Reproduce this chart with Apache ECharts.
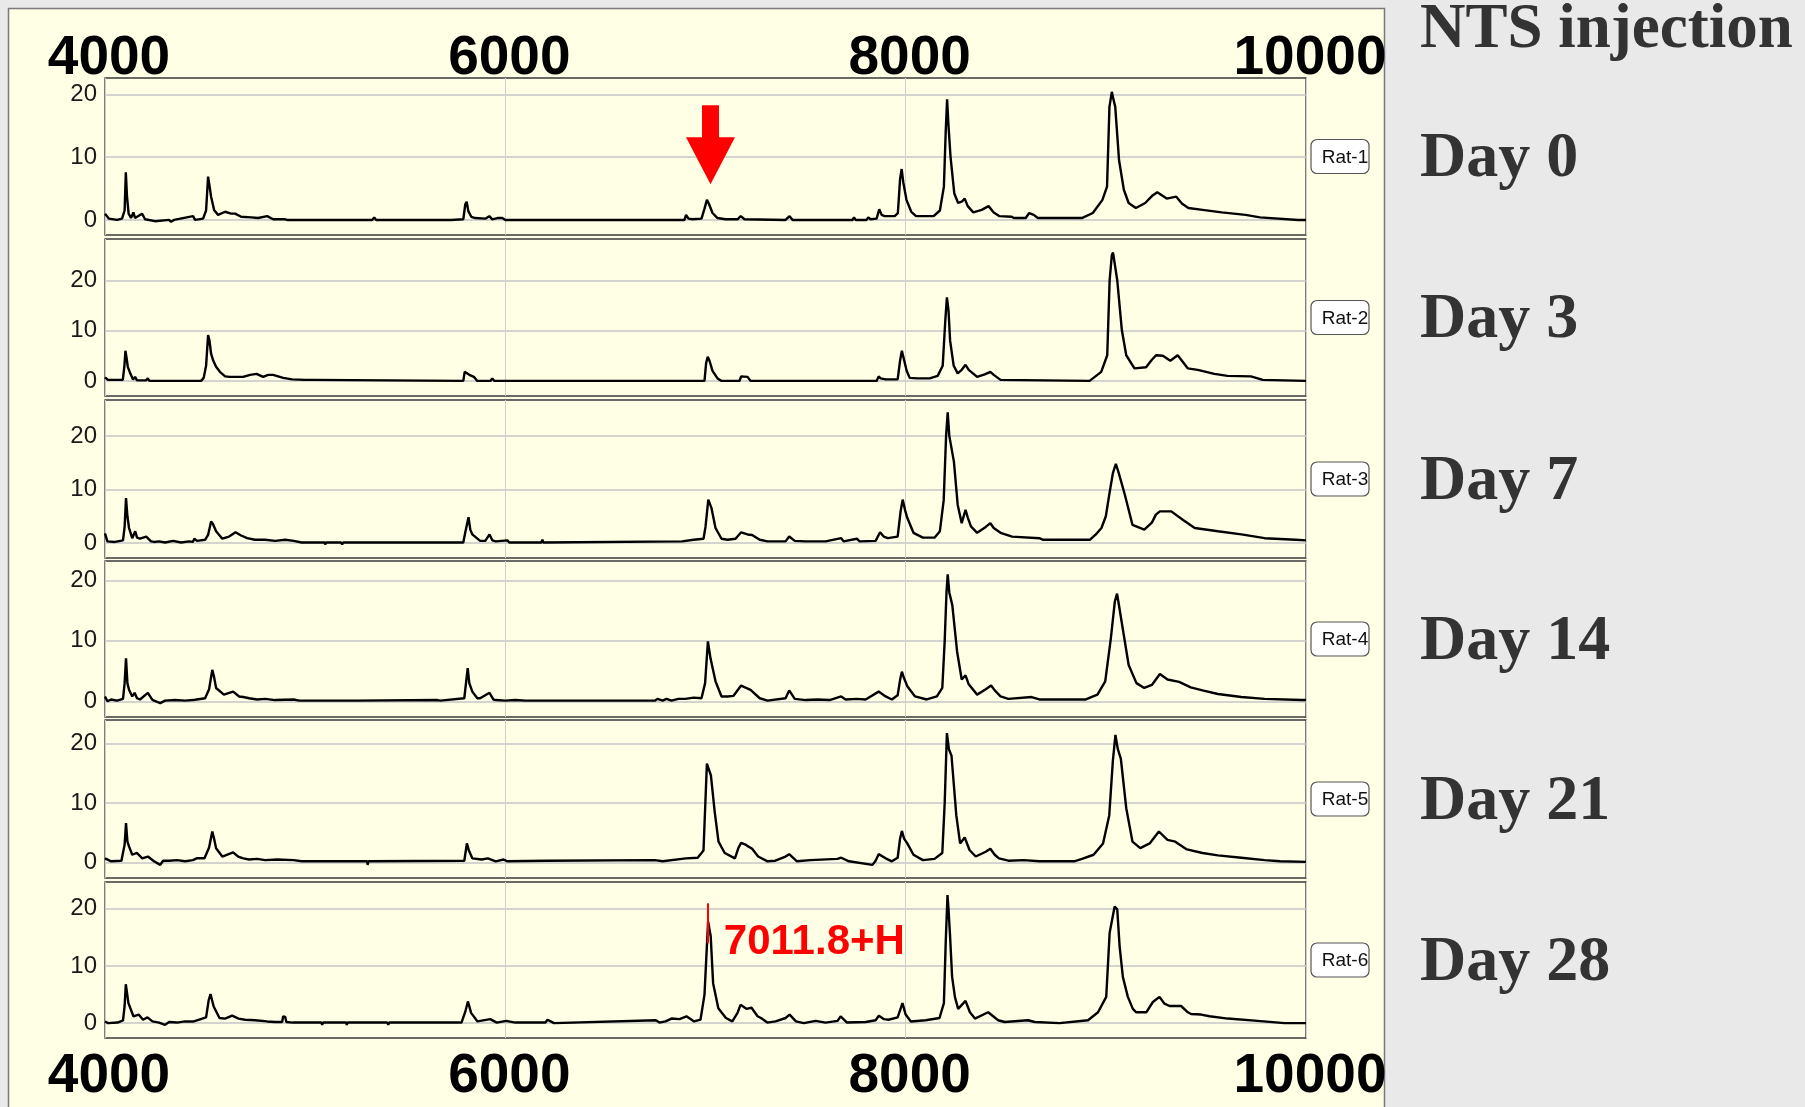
<!DOCTYPE html>
<html><head><meta charset="utf-8">
<script src="https://cdn.jsdelivr.net/npm/echarts@6/dist/echarts.min.js"></script>
<style>html,body{margin:0;padding:0;background:#e9e9e9;}#c{width:1805px;height:1107px;}</style>
</head><body><div id="c"></div>
<script>
// ---------------- data ----------------
const xTicks = [4000, 6000, 8000, 10000];
const yTicks = [0, 10, 20];
const ratNames = ['Rat-1', 'Rat-2', 'Rat-3', 'Rat-4', 'Rat-5', 'Rat-6'];
const dayLabels = ['Day 0', 'Day 3', 'Day 7', 'Day 14', 'Day 21', 'Day 28'];
const titleText = 'NTS injection';
const peakMz = 7011.8;
const peakLabel = '7011.8+H';
const peakLineRange = [14, 21];
const arrowPoint = [7025, 5.7];
const yMin = [-2.4, -3.0, -2.8, -2.6, -2.6, -2.6];
const yMax = [22.6, 28.2, 26.7, 23.2, 23.9, 24.7];

const rat1 = [[4000,1.0],[4020,0.2],[4060,0.0],[4085,0.2],[4098,1.5],[4104,7.6],[4110,3.7],[4118,1.0],[4130,0.3],[4142,1.2],[4150,0.3],[4185,1.0],[4200,0.1],[4250,-0.2],[4255,0.0],[4320,0.0],[4330,-0.3],[4345,0.0],[4440,0.6],[4450,0.0],[4490,0.2],[4505,1.5],[4515,6.9],[4522,5.5],[4530,3.7],[4545,1.6],[4565,0.8],[4600,1.3],[4630,1.0],[4650,1.0],[4680,0.5],[4730,0.4],[4765,0.3],[4810,0.6],[4840,0.1],[4900,0.1],[4905,0.4],[4910,0.0],[5100,0.0],[5105,-0.3],[5110,0],[5200,0],[5205,-0.3],[5210,0],[5335,0],[5345,0.4],[5355,0],[5570,0],[5575,-0.3],[5580,0],[5610,0],[5615,-0.3],[5620,0],[5720,0],[5725,-0.3],[5730,0],[5790,0.1],[5800,2.5],[5807,2.9],[5815,1.4],[5830,0.5],[5850,0.3],[5900,0.2],[5920,0.6],[5935,0.1],[5960,0.3],[5985,0.3],[6000,0.0],[6745,0.0],[6748,0.3],[6752,0],[6895,0],[6903,0.8],[6915,0.2],[6935,0.1],[6980,0.2],[6995,1.8],[7007,3.2],[7018,2.5],[7035,1.1],[7060,0.3],[7100,0.1],[7160,0.1],[7176,0.6],[7195,0.1],[7400,0.0],[7420,0.6],[7435,0.0],[7735,0.0],[7742,0.4],[7750,0],[7805,0],[7813,0.4],[7825,0.1],[7855,0.2],[7868,1.7],[7880,0.8],[7895,0.6],[7945,0.6],[7961,1.1],[7972,6.5],[7980,8.1],[7988,6],[8004,3.2],[8028,1.3],[8052,0.6],[8140,0.6],[8171,1.5],[8191,5.3],[8200,14],[8207,19.2],[8214,15],[8224,10.1],[8243,4.2],[8262,2.7],[8280,2.9],[8295,3.4],[8310,2.2],[8338,1.2],[8380,1.6],[8414,2.2],[8440,1.2],[8469,0.6],[8530,0.5],[8540,0.3],[8600,0.3],[8617,1.1],[8640,0.8],[8660,0.3],[8880,0.3],[8935,1.1],[8983,3.2],[9006,5.3],[9018,18],[9030,20.4],[9036,19.5],[9047,18],[9066,9.5],[9090,4.8],[9114,2.7],[9150,1.9],[9197,2.7],[9230,3.8],[9257,4.4],[9304,3.4],[9352,3.7],[9380,2.6],[9412,1.9],[9483,1.6],[9579,1.2],[9698,0.8],[9770,0.4],[9961,0],[10000,0]];

const rat2 = [[4000,0.7],[4015,0.2],[4089,0.2],[4097,3],[4102,6.0],[4108,4.5],[4114,2.8],[4127,1.4],[4140,0.3],[4150,0.8],[4160,0.1],[4205,0.1],[4214,0.5],[4222,0],[4365,0],[4369,-0.2],[4374,0],[4480,0],[4493,0.6],[4505,3],[4515,9.1],[4522,8],[4530,5.4],[4541,4],[4555,2.8],[4574,1.8],[4600,0.9],[4624,0.8],[4690,0.8],[4725,1.2],[4757,1.4],[4790,0.8],[4815,1.2],[4840,1.2],[4890,0.6],[4935,0.3],[5000,0.2],[5039,0.2],[5045,0],[5790,0],[5797,1.8],[5805,2.1],[5820,1.2],[5843,0.8],[5860,0],[5925,0],[5935,0.5],[5945,0],[6995,0],[7003,3.5],[7011,4.8],[7020,4],[7035,2],[7060,0.5],[7080,0],[7170,0],[7178,0.9],[7210,0.8],[7225,0],[7855,0],[7865,0.9],[7875,0.5],[7900,0.3],[7960,0.3],[7972,4],[7981,6.0],[7990,4.5],[8005,2],[8020,0.6],[8060,0.5],[8120,0.5],[8160,1.0],[8185,3],[8198,12],[8206,16.6],[8214,14],[8222,8],[8240,3],[8260,1.5],[8280,2.2],[8299,3.2],[8315,2.2],[8357,0.8],[8395,1.3],[8423,1.8],[8440,1.2],[8474,0.2],[8919,0],[8977,1.8],[9007,5.1],[9019,20],[9030,25],[9036,25.5],[9044,25.4],[9057,20],[9080,10.1],[9102,5.1],[9143,2.5],[9201,2.7],[9230,4.2],[9251,5.1],[9285,5.0],[9322,4.0],[9359,5.1],[9409,2.5],[9459,2.2],[9542,1.4],[9608,1.0],[9725,0.9],[9784,0.2],[10000,0]];

const rat3 = [[4000,1.8],[4012,0.3],[4050,0.2],[4090,0.5],[4098,3],[4105,8.4],[4112,5],[4120,2.8],[4136,0.9],[4151,2.2],[4160,1.0],[4175,0.8],[4206,1.2],[4230,0.3],[4245,0.2],[4270,0.3],[4300,0.1],[4340,0.4],[4380,0.1],[4420,0.3],[4439,0.2],[4446,0.8],[4460,0.4],[4500,0.6],[4515,1.5],[4530,4.0],[4540,3.5],[4555,2.2],[4586,0.8],[4620,1.2],[4652,2.0],[4680,1.4],[4710,0.9],[4749,0.6],[4800,0.6],[4850,0.4],[4900,0.6],[4943,0.4],[4982,0.1],[5098,0.1],[5100,-0.3],[5104,0.1],[5180,0.1],[5185,-0.3],[5190,0.1],[5790,0.1],[5800,2],[5816,4.8],[5825,2.5],[5835,1.6],[5874,0.4],[5900,0.4],[5921,1.6],[5935,0.5],[5952,0.3],[6010,0.5],[6020,0.1],[6180,0.1],[6185,0.6],[6190,0.1],[6883,0.3],[6941,0.6],[6990,0.8],[7000,3],[7014,8.1],[7030,6.5],[7050,2.8],[7080,0.8],[7110,0.6],[7150,0.8],[7178,2.0],[7210,1.6],[7233,1.5],[7271,0.6],[7310,0.3],[7400,0.3],[7418,1.2],[7446,0.4],[7500,0.3],[7600,0.3],[7678,0.9],[7690,0.3],[7756,0.8],[7770,0.3],[7850,0.4],[7872,2.0],[7890,1.2],[7911,0.9],[7960,1.2],[7975,6],[7985,8.1],[7998,6],[8008,4.7],[8039,1.9],[8086,1.0],[8144,1.0],[8171,2.2],[8190,8],[8202,20],[8210,24.4],[8218,20],[8241,15.2],[8260,7.1],[8280,3.7],[8299,6.2],[8310,4.8],[8326,3.1],[8357,1.9],[8400,3],[8423,3.7],[8440,2.8],[8474,1.9],[8532,1.2],[8668,0.9],[8687,0.6],[8920,0.6],[8950,1.6],[8978,2.8],[9000,5],[9017,9.0],[9035,13],[9050,14.8],[9065,13],[9095,9.0],[9133,3.4],[9192,2.5],[9230,3.8],[9250,5.3],[9270,5.9],[9327,5.9],[9386,4.3],[9444,2.8],[9560,2.2],[9677,1.6],[9793,0.9],[9948,0.6],[10000,0.5]];

const rat4 = [[4000,0.8],[4012,0],[4030,0.3],[4060,0.1],[4090,0.4],[4098,3],[4105,7.1],[4112,3],[4120,1.9],[4136,0.8],[4148,1.4],[4160,0.5],[4175,0.3],[4214,1.4],[4235,0.3],[4245,0.1],[4276,-0.3],[4300,0.1],[4350,0.2],[4400,0.1],[4439,0.2],[4458,0.3],[4500,0.5],[4520,2],[4536,5.2],[4545,4],[4555,2.2],[4594,1.1],[4640,1.6],[4670,0.8],[4691,0.7],[4720,0.5],[4760,0.3],[4800,0.4],[4850,0.2],[4943,0.3],[4970,0.1],[5090,0.1],[5095,0.3],[5100,0.1],[5250,0.1],[5255,0.3],[5260,0.1],[5661,0.2],[5668,0.4],[5675,0.1],[5795,0.5],[5812,5.5],[5820,3],[5835,1.6],[5860,0.5],[5874,0.5],[5921,1.4],[5940,0.3],[5952,0.2],[6000,0.1],[6050,0.2],[6100,0.1],[6223,0.1],[6747,0.1],[6760,0.4],[6786,0.1],[6805,0.4],[6830,0.1],[6864,0.4],[6900,0.4],[6941,0.6],[6980,0.5],[6998,3],[7012,9.9],[7025,7.1],[7050,3.3],[7080,0.8],[7110,0.8],[7140,0.9],[7178,2.6],[7225,1.9],[7271,0.5],[7310,0.1],[7400,0.5],[7418,1.8],[7446,0.4],[7500,0.2],[7560,0.3],[7620,0.2],[7678,0.8],[7700,0.3],[7756,0.4],[7800,0.3],[7865,1.6],[7900,0.8],[7931,0.3],[7960,1.0],[7972,3.5],[7981,4.9],[7992,3.8],[8008,2.5],[8047,0.8],[8105,0.3],[8156,0.8],[8183,2.2],[8195,10],[8204,18],[8210,21.0],[8218,18],[8233,15.9],[8257,8.2],[8280,3.6],[8299,4.3],[8315,2.8],[8357,1.1],[8400,2.0],[8427,2.6],[8445,1.8],[8474,0.8],[8513,0.4],[8629,0.7],[8668,0.3],[8900,0.3],[8958,1.1],[8997,3.3],[9025,10.4],[9045,16.5],[9056,17.8],[9065,16],[9087,11.5],[9114,6.0],[9153,3.0],[9192,2.2],[9230,2.7],[9270,4.5],[9308,3.6],[9366,3.2],[9424,2.3],[9483,1.8],[9560,1.2],[9677,0.7],[9793,0.4],[9979,0.2],[10000,0.2]];

const rat5 = [[4000,0.7],[4031,0.2],[4082,0.3],[4098,3],[4105,6.6],[4112,3.5],[4120,2.7],[4136,1.3],[4159,1.6],[4186,0.7],[4214,1.0],[4245,0.2],[4276,-0.4],[4290,0.3],[4322,0.3],[4360,0.4],[4400,0.2],[4439,0.4],[4458,0.7],[4497,0.7],[4520,2.5],[4536,5.2],[4545,4],[4555,2.4],[4586,1.0],[4640,1.7],[4665,1.0],[4691,0.7],[4720,0.5],[4760,0.6],[4800,0.4],[4860,0.5],[4943,0.4],[4982,0.2],[5098,0.2],[5102,0.5],[5106,0.2],[5310,0.2],[5312,-0.4],[5316,0.2],[5795,0.3],[5808,3.2],[5818,2],[5835,0.7],[5882,0.5],[5913,0.7],[5952,0.2],[5991,0.5],[6010,0.2],[6204,0.3],[6747,0.4],[6786,0.2],[6902,0.7],[6961,0.8],[6990,2],[7007,16.6],[7027,14.6],[7046,8.5],[7065,3.5],[7096,1.6],[7147,0.7],[7165,2.5],[7178,3.3],[7200,3.0],[7213,2.7],[7233,2.3],[7263,1.0],[7310,0.2],[7349,0.3],[7400,1.0],[7418,1.4],[7457,0.2],[7523,0.4],[7659,0.6],[7678,0.8],[7717,0.2],[7834,-0.4],[7850,0.3],[7865,1.4],[7900,0.7],[7931,0.2],[7960,0.8],[7972,4],[7981,5.3],[7992,4],[8008,3.2],[8039,1.3],[8086,0.4],[8144,0.6],[8183,1.6],[8195,10],[8206,21.7],[8216,19],[8229,17.9],[8253,7.9],[8272,3.2],[8295,4.2],[8319,2.1],[8350,1.0],[8400,1.8],[8423,2.3],[8445,1.3],[8466,0.7],[8513,0.3],[8590,0.4],[8668,0.2],[8842,0.2],[8881,0.6],[8939,1.3],[8986,3.2],[9017,7.9],[9035,17],[9048,21.4],[9060,19],[9075,17.4],[9102,9.1],[9133,3.5],[9172,2.4],[9219,3.2],[9265,5.2],[9308,3.8],[9347,3.5],[9405,2.2],[9483,1.6],[9560,1.2],[9677,0.8],[9793,0.4],[9871,0.2],[10000,0.1]];

const rat6 = [[4000,0.3],[4015,0],[4063,0.1],[4090,0.5],[4098,3],[4104,6.8],[4117,3.5],[4142,1.2],[4168,1.5],[4190,0.6],[4212,1.0],[4237,0.3],[4270,0.1],[4300,-0.3],[4320,0.2],[4360,0.1],[4400,0.3],[4444,0.3],[4505,1],[4518,4],[4527,5.1],[4543,2.9],[4572,0.9],[4600,0.8],[4635,1.3],[4667,0.8],[4700,0.6],[4750,0.5],[4810,0.3],[4850,0.2],[4885,0.2],[4890,1.2],[4900,1.1],[4906,0.2],[4938,0.1],[5081,0.1],[5085,-0.3],[5090,0.1],[5205,0.1],[5208,-0.3],[5212,0.1],[5410,0.1],[5415,-0.3],[5420,0.1],[5781,0.1],[5800,2],[5813,3.8],[5829,1.8],[5861,0.3],[5925,0.7],[5957,0.1],[6004,0.4],[6050,0.1],[6200,0.1],[6211,0.6],[6243,0],[6752,0.5],[6770,0.1],[6800,0.3],[6830,0.8],[6870,0.7],[6905,1.2],[6943,0.3],[6975,0.6],[6995,5],[7013,17.8],[7026,15.2],[7038,7.0],[7064,2.6],[7102,0.9],[7134,0.3],[7160,1.8],[7175,3.2],[7204,2.5],[7230,2.7],[7260,1.2],[7277,0.9],[7309,0.1],[7350,0.3],[7400,0.9],[7420,1.5],[7452,0.3],[7491,0],[7550,0.4],[7600,0.1],[7660,0.4],[7675,1.2],[7707,0.1],[7800,0.2],[7850,0.5],[7866,1.3],[7892,0.7],[7914,0.6],[7960,1.0],[7984,3.5],[8000,1.5],[8026,0.3],[8100,0.5],[8169,0.9],[8191,3.5],[8200,14],[8209,22.4],[8214,20],[8221,15.8],[8232,8.1],[8246,4.6],[8262,2.5],[8299,3.9],[8321,1.9],[8346,0.8],[8412,1.9],[8462,0.5],[8495,0.2],[8611,0.5],[8645,0.2],[8769,0],[8911,0.5],[8961,1.9],[9002,4.6],[9019,15.8],[9044,20.4],[9057,19.9],[9069,13.4],[9085,8.1],[9110,4.6],[9135,2.5],[9152,1.9],[9202,1.9],[9235,3.7],[9268,4.6],[9293,3.4],[9318,3.0],[9376,3.0],[9410,1.9],[9426,1.6],[9476,1.5],[9518,1.2],[9609,0.8],[9759,0.4],[9892,0.0],[10000,0]];

const spectra = [rat1, rat2, rat3, rat4, rat5, rat6];

// ---------------- layout ----------------
const gridLeft = 105, gridWidth = 1201;
const gridTops = [78, 239, 400, 561, 720, 882];
const gridHeights = [157, 157, 158, 156, 158, 156];
const SANS = '"Liberation Sans", Arial, sans-serif';
const SERIF = '"Liberation Serif", "Times New Roman", serif';

const chart = echarts.init(document.getElementById('c'), null, {renderer: 'canvas'});

const grids = [], xAxes = [], yAxes = [], series = [], graphics = [];

graphics.push({
  type: 'rect', z: -100,
  shape: {x: 8.5, y: 8.5, width: 1376, height: 1120},
  style: {fill: '#ffffe6', stroke: '#7a7a7a', lineWidth: 1.5}
});

spectra.forEach((data, i) => {
  grids.push({
    left: gridLeft, width: gridWidth, top: gridTops[i], height: gridHeights[i],
    show: true, borderColor: '#3a3a3a', borderWidth: 1.3, backgroundColor: 'transparent'
  });
  const showX = (i === 0 || i === spectra.length - 1);
  xAxes.push({
    type: 'value', gridIndex: i, min: xTicks[0], max: xTicks[xTicks.length - 1], interval: 2000,
    position: i === 0 ? 'top' : 'bottom',
    axisLine: {show: false}, axisTick: {show: false},
    axisLabel: {
      show: showX, fontFamily: SANS, fontWeight: 'bold', fontSize: 55, color: '#000',
      lineHeight: 40, margin: i === 0 ? -1 : 19, padding: [0, 0, 0, 8],
      formatter: v => String(v),
      showMinLabel: true, showMaxLabel: true, hideOverlap: false
    },
    splitLine: {show: true, lineStyle: {color: '#cfcfcf', width: 1}}
  });
  yAxes.push({
    type: 'value', gridIndex: i, min: yMin[i], max: yMax[i],
    axisLine: {show: false},
    axisTick: {show: false, customValues: yTicks},
    axisLabel: {customValues: yTicks, fontFamily: SANS, fontSize: 24, color: '#1a1a1a', margin: 8},
    splitLine: {show: true, lineStyle: {color: '#c6c6c6', width: 1.5}}
  });
  const s = {
    type: 'line', name: ratNames[i], xAxisIndex: i, yAxisIndex: i, data: data,
    showSymbol: false, symbol: 'none', silent: true, clip: true,
    lineStyle: {color: '#000', width: 2.4}, z: 3
  };
  if (i === 0) {
    s.markPoint = {
      silent: true, animation: false,
      data: [{
        coord: arrowPoint,
        symbol: 'path://M16,0 L33,0 L33,32 L49,32 L24.5,79 L0,32 L16,32 Z',
        symbolSize: [49, 79], symbolKeepAspect: false, symbolOffset: [0, -39.5],
        itemStyle: {color: '#ff0000'}, label: {show: false}
      }]
    };
  }
  if (i === spectra.length - 1) {
    s.markLine = {
      silent: true, animation: false, symbol: ['none', 'none'],
      lineStyle: {color: '#ff0000', width: 2, type: 'solid'}, label: {show: false},
      data: [[{coord: [peakMz, peakLineRange[0]]}, {coord: [peakMz, peakLineRange[1]]}]]
    };
    s.markPoint = {
      silent: true, animation: false,
      data: [{
        coord: [peakMz, 14.1], symbol: 'rect', symbolSize: 0,
        itemStyle: {color: 'transparent'},
        label: {show: true, formatter: peakLabel, position: 'right', distance: 16,
          fontFamily: SANS, fontWeight: 'bold', fontSize: 42, color: '#ff0000'}
      }]
    };
  }
  series.push(s);

  const cy = gridTops[i] + gridHeights[i] / 2;
  graphics.push({
    type: 'rect', z: 10,
    shape: {x: 1311, y: cy - 17, width: 58, height: 34, r: 6},
    style: {fill: '#ffffff', stroke: '#555', lineWidth: 1.2}
  });
  graphics.push({
    type: 'text', z: 11, x: 1345, y: cy + 1,
    style: {text: ratNames[i], font: '19px ' + SANS, fill: '#111', align: 'center', verticalAlign: 'middle'}
  });
  graphics.push({
    type: 'text', z: 11, x: 1420, y: cy + 3,
    style: {text: dayLabels[i], font: 'bold 64px ' + SERIF, fill: '#333', align: 'left', verticalAlign: 'middle'}
  });
});

graphics.push({
  type: 'text', z: 11, x: 1420, y: 31,
  style: {text: titleText, font: 'bold 63px ' + SERIF, fill: '#333', align: 'left', verticalAlign: 'middle'}
});

chart.setOption({
  backgroundColor: '#e9e9e9',
  animation: false,
  grid: grids, xAxis: xAxes, yAxis: yAxes, series: series,
  graphic: {elements: graphics}
});
</script></body></html>
